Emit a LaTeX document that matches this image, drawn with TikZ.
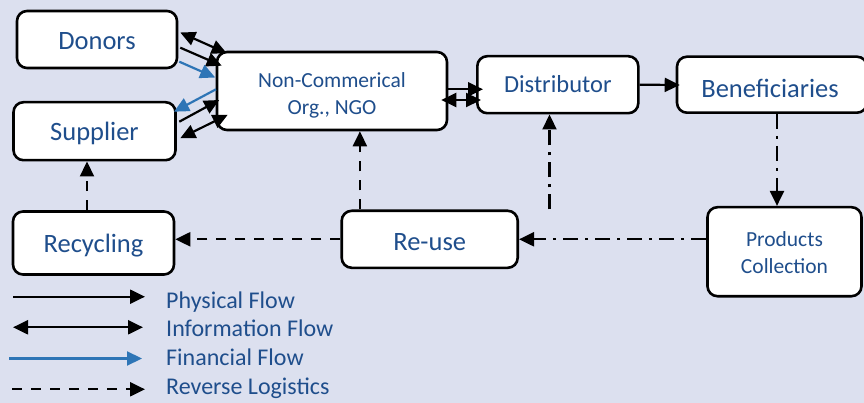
\documentclass[tikz,border=0pt]{standalone}
\usepackage{fontspec}
\setmainfont{Carlito}
\usetikzlibrary{arrows.meta,calc}
\definecolor{bgc}{RGB}{220,224,239}
\definecolor{txt}{RGB}{31,78,140}
\definecolor{fin}{RGB}{46,117,182}
\begin{document}
\begin{tikzpicture}[x=1pt,y=-1pt,
  box/.style={draw=black, line width=2.6pt, rounded corners=10pt, fill=white, text=txt, align=center, inner sep=0pt, text depth=0pt},
  big/.style={font=\fontsize{26.5}{30}\selectfont},
  mid/.style={font=\fontsize{24.5}{28}\selectfont},
  ngofont/.style={font=\fontsize{21.5}{27}\selectfont},
  prodfont/.style={font=\fontsize{21.5}{26.5}\selectfont},
  legtext/.style={text=txt, anchor=base west, inner sep=0pt, font=\fontsize{24}{26}\selectfont},
  tri/.tip={Triangle[length=15pt,width=14pt]},
  conn/.style={line width=2.2pt, draw=black},
  phys/.style={conn, -tri},
  infoflow/.style={conn, tri-tri},
  finflow/.style={conn, draw=fin, -tri},
  revflow/.style={conn, dash pattern=on 10pt off 9pt, -tri},
  ddflow/.style={conn, dash pattern=on 15pt off 7pt on 3pt off 7pt, -tri}
]
\fill[bgc] (0,0) rectangle (864,403);
\useasboundingbox (0,0) rectangle (864,403);

% boxes
\node[box, big, minimum width=160pt, minimum height=57pt, text height=19.35pt] (donors) at (97,39.5) {Donors};
\node[box, big, minimum width=162pt, minimum height=58pt, text height=18.75pt] (supplier) at (94.5,131.2) {Supplier};
\node[box, ngofont, minimum width=230pt, minimum height=78pt, text height=46.6pt, text depth=0pt] (ngo) at (332,91) {Non-Commerical\\Org., NGO};
\node[box, mid, minimum width=161pt, minimum height=57pt, text height=14.9pt] (dist) at (557.8,84.7) {Distributor};
\node[box, big, minimum width=190pt, minimum height=56pt, text height=25.15pt] (benef) at (772,84.7) {\hspace*{-4pt}Beneficiaries};
\node[box, big, minimum width=161pt, minimum height=63pt, text height=18.35pt] (recyc) at (93.5,243) {Recycling};
\node[box, big, minimum width=176pt, minimum height=57pt, text height=21.75pt] (reuse) at (429.7,239.3) {Re-use};
\node[box, prodfont, minimum width=154pt, minimum height=89pt, text height=43.1pt, text depth=0pt] (prod) at (784.5,251.7) {Products\\Collection};

% donors / supplier <-> ngo
\draw[infoflow] ($(donors.east)+(2,-7)$) -- ($(ngo.north west)+(11,2.5)$);
\draw[phys] ($(donors.east)+(2,8.2)$) -- ($(ngo.north west)+(6,15)$);
\draw[finflow] ($(donors.east)+(1,22.2)$) -- ($(ngo.west)+(-0.5,-13.5)$);
\draw[finflow] ($(ngo.west)+(0.3,-1.7)$) -- ($(supplier.east)+(-2.8,-19.5)$);
\draw[phys] ($(supplier.east)+(2.5,-9.5)$) -- ($(ngo.west)+(3.5,9)$);
\draw[infoflow] ($(supplier.east)+(3.5,7)$) -- ($(ngo.south west)+(12,-16.5)$);

% ngo <-> distributor
\draw[phys] ($(ngo.east)+(0,-1.7)$) -- ($(dist.west)+(7,4.6)$);
\draw[infoflow] ($(ngo.east)+(-7,9)$) -- ($(dist.west)+(5,15.3)$);

% distributor -> beneficiaries
\draw[phys] (dist.east) -- ($(benef.west)+(4,0.3)$);

% reverse logistics
\draw[ddflow] ($(benef.south)+(5,0)$) -- ($(prod.north)+(-7.5,0)$);
\draw[ddflow] (prod.west |- reuse.east) -- (reuse.east);
\coordinate (dfree) at ($(reuse.north east)+(30.5,0)$);
\draw[ddflow] (dfree) -- (dfree |- dist.south);
\draw[revflow] (reuse.west) -- (reuse.west -| recyc.east);
\coordinate (r1) at ($(reuse.north west)+(19.5,0)$);
\draw[revflow] (r1) -- (r1 |- ngo.south);
\coordinate (r2) at ($(recyc.north)+(-6.5,0)$);
\draw[revflow] (r2) -- (r2 |- supplier.south);

% legend
\coordinate (l1a) at (13,296.7); \coordinate (l1b) at (145,296.7);
\coordinate (l2a) at (13,327.3); \coordinate (l2b) at (143,327.3);
\coordinate (l3a) at (9,358.5);  \coordinate (l3b) at (142,358.5);
\coordinate (l4a) at (12,389.3); \coordinate (l4b) at (145,389.3);
\draw[phys] (l1a) -- (l1b);
\draw[infoflow] (l2a) -- (l2b);
\draw[finflow] (l3a) -- (l3b);
\draw[revflow] (l4a) -- (l4b);
\node[legtext] (t1) at (166,308.1) {Physical Flow};
\node[legtext] (t2) at (166,336.6) {Information Flow};
\node[legtext] (t3) at (166,365.6) {Financial Flow};
\node[legtext] (t4) at (166,394.6) {Reverse Logistics};
\end{tikzpicture}
\end{document}
